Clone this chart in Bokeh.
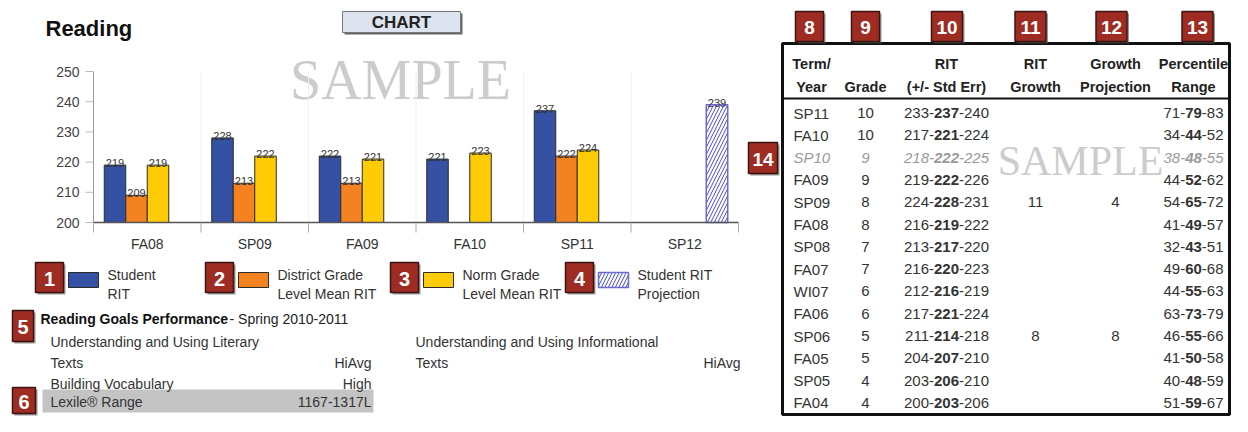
from bokeh.plotting import figure
from bokeh.models import Range1d, ColumnDataSource
from bokeh.core.properties import value
from bokeh.embed import file_html
from bokeh.resources import INLINE

# ---------------- data ----------------
terms = ["FA08", "SP09", "FA09", "FA10", "SP11", "SP12"]
student_rit = [219, 228, 222, 221, 237, None]
district_mean = [209, 213, 213, None, 222, None]
norm_mean = [219, 222, 221, 223, 224, None]
rit_projection = [None, None, None, None, None, 239]
y_ticks = [200, 210, 220, 230, 240, 250]

legend_numbers = ["1", "2", "3", "4"]
legend_lines = [("Student", "RIT"), ("District Grade", "Level Mean RIT"),
                ("Norm Grade", "Level Mean RIT"), ("Student RIT", "Projection")]

goal_names_left = [("Understanding and Using Literary", "Texts"), ("Building Vocabulary",)]
goal_levels_left = ["HiAvg", "High"]
goal_names_right = [("Understanding and Using Informational", "Texts")]
goal_levels_right = ["HiAvg"]
lexile_range = "1167-1317L"

tbl_terms = ["SP11", "FA10", "SP10", "FA09", "SP09", "FA08", "SP08", "FA07", "WI07",
             "FA06", "SP06", "FA05", "SP05", "FA04"]
tbl_grades = [10, 10, 9, 9, 8, 8, 7, 7, 6, 6, 5, 5, 4, 4]
rit_low = [233, 217, 218, 219, 224, 216, 213, 216, 212, 217, 211, 204, 203, 200]
rit_mid = [237, 221, 222, 222, 228, 219, 217, 220, 216, 221, 214, 207, 206, 203]
rit_high = [240, 224, 225, 226, 231, 222, 220, 223, 219, 224, 218, 210, 210, 206]
rit_growth = ["", "", "", "", "11", "", "", "", "", "", "8", "", "", ""]
growth_proj = ["", "", "", "", "4", "", "", "", "", "", "8", "", "", ""]
pct_low = [71, 34, 38, 44, 54, 41, 32, 49, 44, 63, 46, 41, 40, 51]
pct_mid = [79, 44, 48, 52, 65, 49, 43, 60, 55, 73, 55, 50, 48, 59]
pct_high = [83, 52, 55, 62, 72, 57, 51, 68, 63, 79, 66, 58, 59, 67]
dimmed_rows = ["SP10"]

FONT = value("Liberation Sans")
SERIF = value("Liberation Serif")
TXT = "#333333"
RED = "#9e2c23"
RED_LINE = "#3d1510"
BLUE, ORANGE, YELLOW = "#3551a3", "#f58220", "#ffcb05"
PROJ = "#6a6ad6"
HATCH = "#4a4ac8"

# ---------------- page figure (layout coordinates in pixels, y downward) ----------------
W, H = 1232, 416
p = figure(width=W, height=H, x_range=Range1d(0, W), y_range=Range1d(H, 0),
           output_backend="svg", toolbar_location=None, min_border=0,
           x_axis_location=None, y_axis_location=None)
p.outline_line_color = None
p.xgrid.visible = False
p.ygrid.visible = False

# bar-chart scales: plot area from x 93..738, y 222 (=200) .. 71 (=250)
PL, PR, PB, PT = 93.0, 738.0, 222.0, 71.0
ncat = len(terms)
ux = ncat / (PR - PL)                         # category units per pixel
uy = (y_ticks[-1] - y_ticks[0]) / (PB - PT)   # RIT units per pixel
p.extra_x_ranges = {"bars": Range1d(-PL * ux, (W - PL) * ux)}
p.extra_y_ranges = {"rit": Range1d(y_ticks[0] - (H - PB) * uy, y_ticks[0] + PB * uy)}
BR = dict(x_range_name="bars", y_range_name="rit")

# watermark
p.text(x=[400], y=[79], text=["SAMPLE"], text_align="center", text_baseline="middle",
       text_font=SERIF, text_font_size="56px", text_color="#cccccc")

# faint category separators
p.segment(x0=list(range(1, ncat)), x1=list(range(1, ncat)), y0=[y_ticks[0]] * (ncat - 1),
          y1=[y_ticks[-1]] * (ncat - 1), line_color="#f0f0f0", line_width=1, **BR)

series = [(student_rit, BLUE), (district_mean, ORANGE), (norm_mean, YELLOW)]
for k, (vals, col) in enumerate(series):
    xs = [i + 0.2 + 0.2 * k for i, v in enumerate(vals) if v is not None]
    ys = [v for v in vals if v is not None]
    src = ColumnDataSource(dict(x=xs, top=ys, lab=[str(v) for v in ys]))
    p.vbar(x="x", top="top", bottom=y_ticks[0], width=0.2, source=src,
           fill_color=col, line_color="#2b2b2b", line_width=1, **BR)
    p.text(x="x", y="top", text="lab", source=src, text_align="center",
           text_baseline="bottom", y_offset=2, text_font=FONT,
           text_font_size="11px", text_color=TXT, **BR)

pxs = [i + 0.8 for i, v in enumerate(rit_projection) if v is not None]
pys = [v for v in rit_projection if v is not None]
psrc = ColumnDataSource(dict(x=pxs, top=pys, lab=[str(v) for v in pys]))
p.vbar(x="x", top="top", bottom=y_ticks[0], width=0.2, source=psrc, fill_color="white",
       line_color=PROJ, line_width=1.5, hatch_pattern="/", hatch_color=HATCH,
       hatch_scale=7, hatch_weight=1, **BR)
p.text(x="x", y="top", text="lab", source=psrc, text_align="center",
       text_baseline="bottom", y_offset=2, text_font=FONT,
       text_font_size="11px", text_color=TXT, **BR)

# axes drawn on the chart scales
p.segment(x0=[0], x1=[0], y0=[y_ticks[0]], y1=[y_ticks[-1]], line_color="#999999",
          line_width=1, **BR)
p.segment(x0=[0], x1=[ncat], y0=[y_ticks[0]], y1=[y_ticks[0]], line_color="#555555",
          line_width=1.5, **BR)
p.segment(x0=[PL - 8] * len(y_ticks), x1=[PL] * len(y_ticks), y0=y_ticks, y1=y_ticks,
          line_color="#bbbbbb", line_width=1, y_range_name="rit")
p.text(x=[PL - 14] * len(y_ticks), y=y_ticks, text=[str(t) for t in y_ticks],
       text_align="right", text_baseline="middle", text_font=FONT,
       text_font_size="14px", text_color="#444444", y_range_name="rit")
p.segment(x0=list(range(ncat + 1)), x1=list(range(ncat + 1)), y0=[PB] * (ncat + 1),
          y1=[PB + 10] * (ncat + 1), line_color="#aaaaaa", line_width=1,
          x_range_name="bars")
p.text(x=[i + 0.5 for i in range(ncat)], y=[PB + 21] * ncat, text=terms,
       text_align="center", text_baseline="middle", text_font=FONT,
       text_font_size="14px", text_color=TXT, x_range_name="bars")

# title and CHART tab
p.text(x=[45], y=[28], text=["Reading"], text_baseline="middle", text_font=FONT,
       text_font_style="bold", text_font_size="22px", text_color="#111111")
p.quad(left=[344], right=[462], top=[13], bottom=[34], fill_color="#666666",
       line_color=None)
p.quad(left=[342], right=[460], top=[11], bottom=[32], fill_color="#dde4f0",
       line_color="#777777", line_width=1)
p.text(x=[401], y=[21.5], text=["CHART"], text_align="center", text_baseline="middle",
       text_font=FONT, text_font_style="bold", text_font_size="17px", text_color="#222222")

# ---------------- numbered red markers ----------------
def red_boxes(lefts, rights, tops, bottoms, labels, size):
    p.quad(left=[l + 2 for l in lefts], right=[r + 2 for r in rights],
           top=[t + 2 for t in tops], bottom=[b + 2 for b in bottoms],
           fill_color="#555555", fill_alpha=0.6, line_color=None)
    p.quad(left=lefts, right=rights, top=tops, bottom=bottoms,
           fill_color=RED, line_color=RED_LINE, line_width=1.5)
    p.text(x=[(l + r) / 2 for l, r in zip(lefts, rights)],
           y=[(t + b) / 2 + 1 for t, b in zip(tops, bottoms)], text=labels,
           text_align="center", text_baseline="middle", text_font=FONT,
           text_font_style="bold", text_font_size=size, text_color="white")

# ---------------- legend ----------------
leg_left = [35, 205, 390, 565]
red_boxes(leg_left, [l + 28 for l in leg_left], [262] * 4, [292] * 4, legend_numbers, "20px")
sw_cols = [BLUE, ORANGE, YELLOW]
p.quad(left=[l + 33 for l in leg_left[:3]], right=[l + 63 for l in leg_left[:3]],
       top=[272] * 3, bottom=[287] * 3, fill_color=sw_cols, line_color="#2b2b2b",
       line_width=1)
p.quad(left=[leg_left[3] + 33], right=[leg_left[3] + 63], top=[272], bottom=[287],
       fill_color="white", line_color=PROJ, line_width=1.5, hatch_pattern="/",
       hatch_color=HATCH, hatch_scale=7, hatch_weight=1)
p.text(x=[l + 72 for l in leg_left], y=[274] * 4, text=[a for a, b in legend_lines],
       text_baseline="middle", text_font=FONT, text_font_size="14px", text_color=TXT)
p.text(x=[l + 72 for l in leg_left], y=[293] * 4, text=[b for a, b in legend_lines],
       text_baseline="middle", text_font=FONT, text_font_size="14px", text_color=TXT)

# ---------------- goals ----------------
red_boxes([12], [33], [310], [341], ["5"], "20px")
p.text(x=[40], y=[318], text=["Reading Goals Performance"], text_baseline="middle",
       text_font=FONT, text_font_style="bold", text_font_size="14px", text_color="#111111")
p.text(x=[229], y=[318], text=[" - Spring 2010-2011"], text_baseline="middle",
       text_font=FONT, text_font_size="14px", text_color="#222222")

p.quad(left=[42], right=[373], top=[389], bottom=[412], fill_color="#c4c4c4",
       line_color=None)
red_boxes([12], [35], [387], [413], ["6"], "20px")

line_y = [341, 362, 383, 401]
def goal_column(names, levels, x_left, x_right, start):
    ys, texts, vy, vt = [], [], [], []
    idx = start
    for name, lev in zip(names, levels):
        for part in name:
            ys.append(line_y[idx]); texts.append(part); idx += 1
        vy.append(line_y[idx - 1]); vt.append(lev)
    p.text(x=[x_left] * len(ys), y=ys, text=texts, text_baseline="middle",
           text_font=FONT, text_font_size="14px", text_color=TXT)
    p.text(x=[x_right] * len(vy), y=vy, text=vt, text_baseline="middle",
           text_align="right", text_font=FONT, text_font_size="14px", text_color=TXT)
    return idx

nxt = goal_column(goal_names_left, goal_levels_left, 50, 371, 0)
goal_column([("Lexile\u00ae Range",)], [lexile_range], 50, 371, nxt)
goal_column(goal_names_right, goal_levels_right, 415, 740, 0)

# ---------------- table ----------------
p.text(x=[1080], y=[160], text=["SAMPLE"], text_align="center", text_baseline="middle",
       text_font=SERIF, text_font_size="42px", text_color="#cccccc")

T_L, T_R, T_T, T_B = 782, 1229, 43, 414
p.quad(left=[T_L], right=[T_R], top=[T_T], bottom=[T_B], fill_color=None,
       line_color="#111111", line_width=3)
p.segment(x0=[T_L], x1=[T_R], y0=[98], y1=[98], line_color="#111111", line_width=2)

hdr_centers = [809, 865, 946.5, 1030, 1111, 1197]
hdr_w = [28, 28, 31, 31, 31, 31]
red_boxes([c - w / 2 for c, w in zip(hdr_centers, hdr_w)],
          [c + w / 2 for c, w in zip(hdr_centers, hdr_w)], [11] * 6, [41] * 6,
          ["8", "9", "10", "11", "12", "13"], "19px")
red_boxes([748], [777], [142], [173], ["14"], "19px")

col_x = [811, 865, 946, 1035, 1115, 1193]
hdr_top = ["Term/", "", "RIT", "RIT", "Growth", "Percentile"]
hdr_bot = ["Year", "Grade", "(+/- Std Err)", "Growth", "Projection", "Range"]
p.text(x=col_x, y=[63] * 6, text=hdr_top, text_align="center", text_baseline="middle",
       text_font=FONT, text_font_style="bold", text_font_size="14.5px", text_color="#222222")
p.text(x=col_x, y=[86] * 6, text=hdr_bot, text_align="center", text_baseline="middle",
       text_font=FONT, text_font_style="bold", text_font_size="14.5px", text_color="#222222")

ROW0, ROWH, FS = 112.5, 22.3, 15
DIGW = 0.556 * FS
for i, term in enumerate(tbl_terms):
    y = ROW0 + i * ROWH
    dim = term in dimmed_rows
    col = "#9a9a9a" if dim else TXT
    st = "italic" if dim else "normal"
    bst = "bold italic" if dim else "bold"
    kw = dict(text_baseline="middle", text_font=FONT, text_font_size=f"{FS}px",
              text_color=col)
    p.text(x=[793], y=[y], text=[term], text_align="left", text_font_style=st, **kw)
    p.text(x=[col_x[1]], y=[y], text=[str(tbl_grades[i])], text_align="center",
           text_font_style=st, **kw)
    for cxp, lo, mid, hi in ((col_x[2], rit_low[i], rit_mid[i], rit_high[i]),
                             (col_x[5], pct_low[i], pct_mid[i], pct_high[i])):
        half = DIGW * len(str(mid)) / 2
        p.text(x=[cxp - half], y=[y], text=[f"{lo}-"], text_align="right",
               text_font_style=st, **kw)
        p.text(x=[cxp], y=[y], text=[str(mid)], text_align="center",
               text_font_style=bst, **kw)
        p.text(x=[cxp + half], y=[y], text=[f"-{hi}"], text_align="left",
               text_font_style=st, **kw)
    p.text(x=[col_x[3], col_x[4]], y=[y, y], text=[rit_growth[i], growth_proj[i]],
           text_align="center", text_font_style=st, **kw)

open("out.html", "w").write(file_html(p, INLINE))
